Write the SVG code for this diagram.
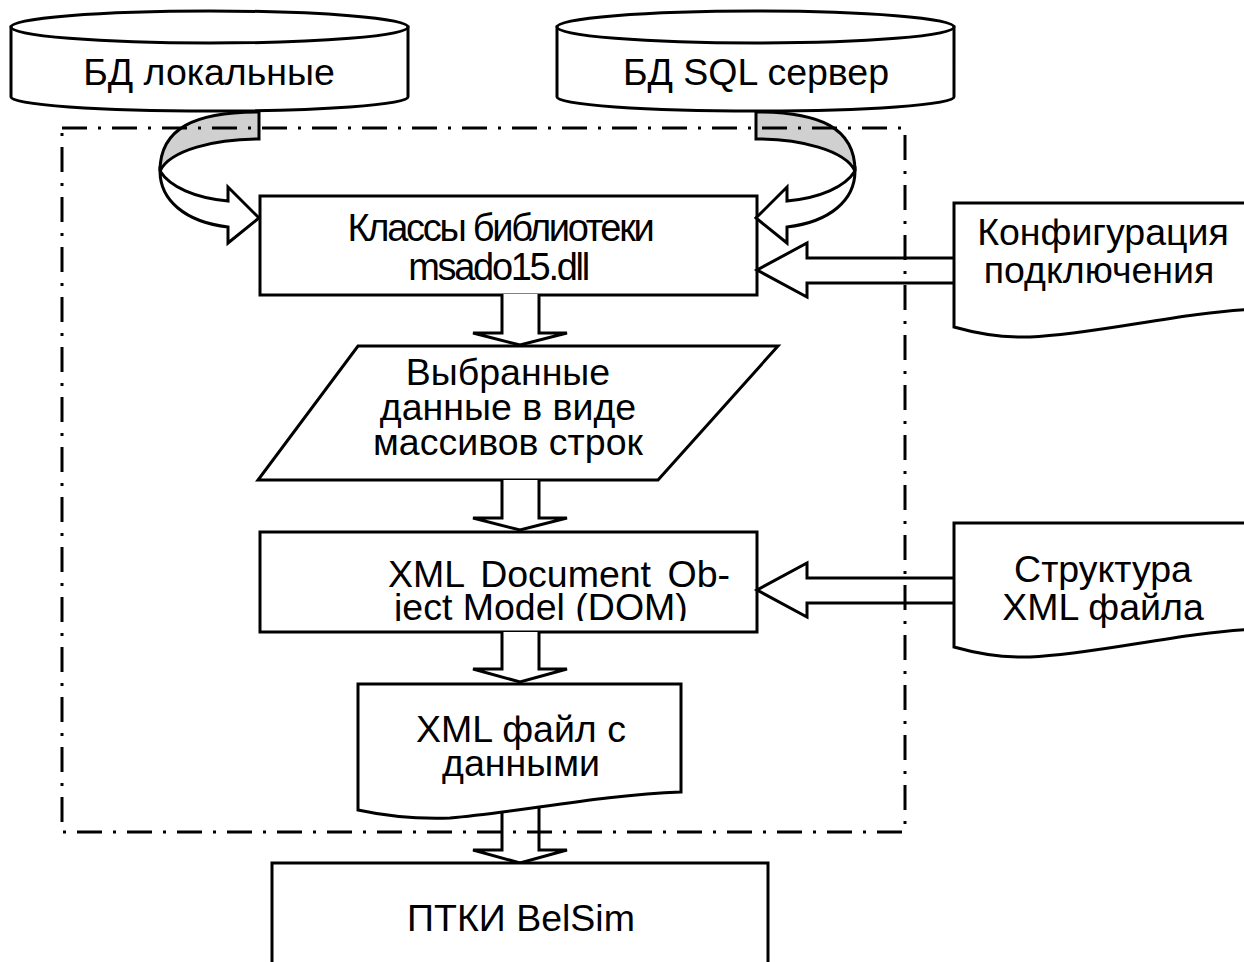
<svg xmlns="http://www.w3.org/2000/svg" width="1244" height="962" viewBox="0 0 1244 962">
<style>
.s{fill:#fff;stroke:#000;stroke-width:3;stroke-linejoin:miter}
.g{fill:#d0d0d0;stroke:#000;stroke-width:3}
.t{font-family:"Liberation Sans",Arial,sans-serif;font-size:37.5px;fill:#000;text-anchor:middle}
.n{font-size:38px;letter-spacing:-2.3px}
.frame{fill:none;stroke:#000;stroke-width:3;stroke-dasharray:25 11 3 11}
</style>
<defs>
<clipPath id="domclip"><rect x="262" y="534" width="493" height="87"/></clipPath>
</defs>
<rect width="1244" height="962" fill="#fff"/>

<g id="db-local">
<path class="s" d="M11,27 V97 A198.5,14 0 0 0 408,97 V27 Z"/>
<ellipse class="s" cx="209.5" cy="27" rx="198.5" ry="16"/>
<text class="t" x="209" y="85">БД локальные</text>
</g>

<g id="db-sql">
<path class="s" d="M557,27 V97 A198.5,14 0 0 0 954,97 V27 Z"/>
<ellipse class="s" cx="755.5" cy="27" rx="198.5" ry="16"/>
<text class="t" x="756" y="85">БД SQL сервер</text>
</g>

<g id="classes">
<rect class="s" x="260" y="196" width="497" height="99"/>
<text class="t n" x="500" y="241">Классы библиотеки</text>
<text class="t n" x="498" y="280">msado15.dll</text>
</g>

<g id="selected-data">
<polygon class="s" points="358,346 778,346 658,480 258,480"/>
<text class="t" x="508" y="385">Выбранные</text>
<text class="t" x="508" y="420">данные в виде</text>
<text class="t" x="508" y="455">массивов строк</text>
</g>

<g id="dom">
<rect class="s" x="260" y="532" width="497" height="100"/>
<g clip-path="url(#domclip)">
<text class="t" x="388" y="587" style="text-anchor:start;word-spacing:6px">XML Document Ob-</text>
<text class="t" x="394" y="620" style="text-anchor:start">ject Model (DOM)</text>
</g>
</g>

<g id="connectors">
<path class="s" d="M502,294 V333 H473 L520,345 L567,333 H539 V294"/>
<path class="s" d="M502,480 V518 H473 L520,530 L567,518 H539 V480"/>
<path class="s" d="M502,632 V669 H473 L520,682 L567,669 H539 V632"/>
<path class="s" d="M502,806 V850 H473 L520,863 L567,850 H539 V806"/>
<path class="s" d="M954,258 H807 V243 L757,270 L807,297 V283 H954"/>
<path class="s" d="M954,578 H807 V563 L757,590 L807,617 V603 H954"/>
<path class="g" d="M259,112 C195,112 160,128 160,171 C170,150 215,139 259,139 Z"/>
<path class="s" d="M160,171 C160,200 185,222 228,227 L228,243 L259,218 L228,187 L228,201 C195,198 170,187 160,171 Z"/>
<path class="g" d="M756,112 C820,112 855,128 855,171 C845,150 800,139 756,139 Z"/>
<path class="s" d="M855,171 C855,200 830,222 787,227 L787,243 L756,218 L787,187 L787,201 C820,198 845,187 855,171 Z"/>
</g>

<g id="xml-file">
<path class="s" d="M358,684 H681 V792 C600,795 520,812 450,818 C420,819 390,817 358,810 Z"/>
<text class="t" x="521" y="742">XML файл с</text>
<text class="t" x="521" y="776">данными</text>
</g>

<g id="config">
<path class="s" d="M954,203 H1260 V309 C1180,312 1100,334 1030,337 C1000,338 975,333 954,327 Z"/>
<text class="t" x="1103" y="245">Конфигурация</text>
<text class="t" x="1099" y="283">подключения</text>
</g>

<g id="xml-structure">
<path class="s" d="M954,523 H1260 V629 C1180,632 1100,654 1030,657 C1000,658 975,653 954,647 Z"/>
<text class="t" x="1103" y="582">Структура</text>
<text class="t" x="1103" y="620">XML файла</text>
</g>

<g id="ptki">
<path class="s" d="M272,970 V863 H768 V970"/>
<text class="t" x="521" y="931">ПТКИ BelSim</text>
</g>

<rect id="boundary" class="frame" x="62" y="128" width="843" height="704"/>
</svg>
